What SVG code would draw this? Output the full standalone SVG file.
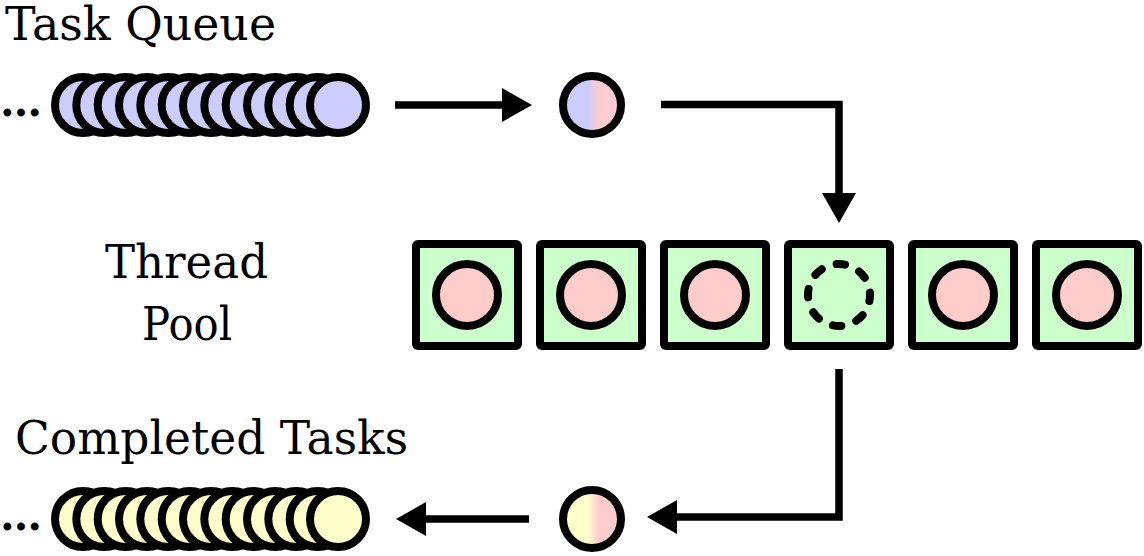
<svg xmlns="http://www.w3.org/2000/svg" width="1144" height="556" viewBox="0 0 1144 556">
<style>
.lbl{font-family:"DejaVu Serif","Liberation Serif",serif;font-size:46px;fill:#000}
.dots{font-family:"DejaVu Serif","Liberation Serif",serif;font-size:42px;font-weight:bold;fill:#000}
.qb{fill:#ccccff;stroke:#000;stroke-width:8}
.qy{fill:#ffffcc;stroke:#000;stroke-width:8}
.box{fill:#ccffcc;stroke:#000;stroke-width:8;stroke-linejoin:round}
.th{fill:#ffcccc;stroke:#000;stroke-width:8}
.conn{fill:none;stroke:#000;stroke-width:7.5}
</style>
<defs>
<linearGradient id="gIn" x1="0" y1="0" x2="1" y2="0">
<stop offset="0" stop-color="#ccccff"/><stop offset="0.42" stop-color="#ccccff"/><stop offset="0.62" stop-color="#ffcccc"/><stop offset="1" stop-color="#ffccdd"/>
</linearGradient>
<linearGradient id="gOut" x1="0" y1="0" x2="1" y2="0">
<stop offset="0" stop-color="#ffffcc"/><stop offset="0.42" stop-color="#ffffcc"/><stop offset="0.62" stop-color="#ffcccc"/><stop offset="1" stop-color="#ffcccc"/>
</linearGradient>
<marker id="ah" markerUnits="userSpaceOnUse" markerWidth="32" markerHeight="36" refX="2" refY="17" orient="auto" viewBox="0 0 32 34">
<path d="M0,0 L30,17 L0,34 Z" fill="#000"/>
</marker>
</defs>

<g id="labels">
<text class="lbl" x="5" y="40" textLength="271" lengthAdjust="spacingAndGlyphs">Task Queue</text>
<text class="lbl" x="105" y="278" textLength="163" lengthAdjust="spacingAndGlyphs">Thread</text>
<text class="lbl" x="142" y="340" textLength="90" lengthAdjust="spacingAndGlyphs">Pool</text>
<text class="lbl" x="15" y="454" textLength="393" lengthAdjust="spacingAndGlyphs">Completed Tasks</text>
</g>

<g id="task-queue">
<text class="dots" x="0" y="116">…</text>
<circle class="qb" cx="83" cy="105" r="28"/>
<circle class="qb" cx="104.3" cy="105" r="28"/>
<circle class="qb" cx="125.7" cy="105" r="28"/>
<circle class="qb" cx="147" cy="105" r="28"/>
<circle class="qb" cx="168.3" cy="105" r="28"/>
<circle class="qb" cx="189.7" cy="105" r="28"/>
<circle class="qb" cx="211" cy="105" r="28"/>
<circle class="qb" cx="232.3" cy="105" r="28"/>
<circle class="qb" cx="253.7" cy="105" r="28"/>
<circle class="qb" cx="275" cy="105" r="28"/>
<circle class="qb" cx="296.3" cy="105" r="28"/>
<circle class="qb" cx="317.7" cy="105" r="28"/>
<circle class="qb" cx="338" cy="105" r="28"/>
</g>

<g id="incoming-task">
<circle cx="592" cy="105" r="29" fill="url(#gIn)" stroke="#000" stroke-width="8"/>
</g>

<g id="thread-pool">
<g id="thread-1"><rect class="box" x="416" y="244" width="102" height="102" rx="2"/><circle class="th" cx="467" cy="295" r="31"/></g>
<g id="thread-2"><rect class="box" x="540" y="244" width="102" height="102" rx="2"/><circle class="th" cx="591" cy="295" r="31"/></g>
<g id="thread-3"><rect class="box" x="664" y="244" width="102" height="102" rx="2"/><circle class="th" cx="715" cy="295" r="31"/></g>
<g id="thread-4"><rect class="box" x="788" y="244" width="102" height="102" rx="2"/><circle cx="839" cy="295" r="31" fill="none" stroke="#000" stroke-width="8" stroke-linecap="round" pathLength="80" stroke-dasharray="3.5 6.5" stroke-dashoffset="1"/></g>
<g id="thread-5"><rect class="box" x="912" y="244" width="102" height="102" rx="2"/><circle class="th" cx="963" cy="295" r="31"/></g>
<g id="thread-6"><rect class="box" x="1036" y="244" width="102" height="102" rx="2"/><circle class="th" cx="1087" cy="295" r="31"/></g>
</g>

<g id="completed-task">
<circle cx="592" cy="519" r="29" fill="url(#gOut)" stroke="#000" stroke-width="8"/>
</g>

<g id="completed-tasks">
<text class="dots" x="0" y="530">…</text>
<circle class="qy" cx="83" cy="519" r="28"/>
<circle class="qy" cx="104.3" cy="519" r="28"/>
<circle class="qy" cx="125.7" cy="519" r="28"/>
<circle class="qy" cx="147" cy="519" r="28"/>
<circle class="qy" cx="168.3" cy="519" r="28"/>
<circle class="qy" cx="189.7" cy="519" r="28"/>
<circle class="qy" cx="211" cy="519" r="28"/>
<circle class="qy" cx="232.3" cy="519" r="28"/>
<circle class="qy" cx="253.7" cy="519" r="28"/>
<circle class="qy" cx="275" cy="519" r="28"/>
<circle class="qy" cx="296.3" cy="519" r="28"/>
<circle class="qy" cx="317.7" cy="519" r="28"/>
<circle class="qy" cx="338" cy="519" r="28"/>
</g>

<g id="connectors">
<path class="conn" d="M395,105 H504" marker-end="url(#ah)"/>
<path class="conn" d="M661,104.5 H839 V195" marker-end="url(#ah)"/>
<path class="conn" d="M839,369 V517 H675" marker-end="url(#ah)"/>
<path class="conn" d="M529,519 H424" marker-end="url(#ah)"/>
</g>
</svg>
